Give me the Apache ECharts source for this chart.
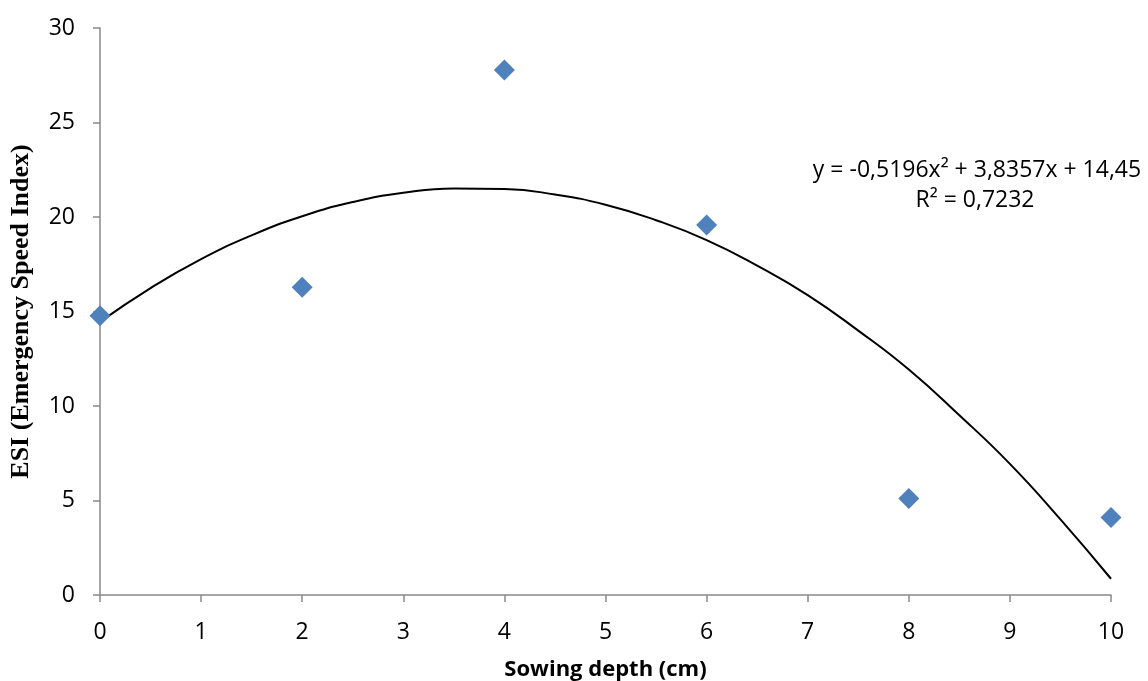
<!DOCTYPE html>
<html>
<head>
<meta charset="utf-8">
<script src="https://cdn.jsdelivr.net/npm/echarts@6/dist/echarts.min.js"></script>
<style>
  html, body { margin: 0; padding: 0; background: #fff; }
  #container { width: 1148px; height: 681px; }
</style>
</head>
<body>
<div id="container"></div>
<script>
// measured ESI at each sowing depth
var depths = [0, 2, 4, 6, 8, 10];
var esi = [14.78, 16.28, 27.78, 19.58, 5.1, 4.1];

// trendline
var trendX = [0, 0.5, 1, 1.5, 2, 2.5, 3, 3.5, 4, 4.5, 5, 5.5, 6, 6.5, 7, 7.5, 8, 8.5, 9, 9.5, 10];
var trendY = [14.45, 16.24, 17.77, 19.03, 20.04, 20.79, 21.28, 21.51, 21.48, 21.19, 20.65,
              19.83, 18.78, 17.43, 15.87, 13.99, 11.93, 9.51, 6.94, 4.0, 0.86];

var equation = 'y = -0,5196x² + 3,8357x + 14,45';
var rSquared = 'R² = 0,7232';

var dom = document.getElementById("container");
var myChart = echarts.init(dom);

var scatterData = depths.map(function (d, i) { return [d, esi[i]]; });
var trendData = trendX.map(function (d, i) { return [d, trendY[i]]; });

var axisGray = '#898989';
var labelFont = "'Open Sans', 'Liberation Sans', sans-serif";

var option = {
    animation: false,
    backgroundColor: '#ffffff',
    grid: {
        left: 100,
        right: 37,
        top: 28,
        bottom: 86,
        containLabel: false,
        outerBoundsMode: 'none'
    },
    xAxis: {
        type: 'value',
        min: 0,
        max: 10,
        interval: 1,
        name: 'Sowing depth (cm)',
        nameLocation: 'middle',
        nameGap: 64,
        nameTextStyle: {
            fontFamily: labelFont,
            fontWeight: 'bold',
            fontSize: 22,
            color: '#000'
        },
        axisLine: { lineStyle: { color: axisGray, width: 1.5 } },
        axisTick: { show: true, length: 7, lineStyle: { color: axisGray, width: 1.5 } },
        axisLabel: { fontFamily: labelFont, fontSize: 23, color: '#000', margin: 26 },
        splitLine: { show: false }
    },
    yAxis: {
        type: 'value',
        min: 0,
        max: 30,
        interval: 5,
        name: 'ESI (Emergency Speed Index)',
        nameLocation: 'middle',
        nameGap: 66,
        nameTextStyle: {
            fontFamily: "'Liberation Serif', 'DejaVu Serif', serif",
            fontWeight: 'bold',
            fontSize: 26,
            color: '#000'
        },
        axisLine: { show: true, lineStyle: { color: axisGray, width: 1.5 } },
        axisTick: { show: true, length: 7, lineStyle: { color: axisGray, width: 1.5 } },
        axisLabel: { fontFamily: labelFont, fontSize: 23, color: '#000', margin: 25 },
        splitLine: { show: false }
    },
    graphic: [{
        type: 'text',
        x: 977,
        y: 170,
        style: {
            text: equation,
            fontFamily: labelFont,
            fontSize: 23,
            fill: '#000',
            align: 'center',
            verticalAlign: 'middle'
        }
    }, {
        type: 'text',
        x: 975,
        y: 200,
        style: {
            text: rSquared,
            fontFamily: labelFont,
            fontSize: 23,
            fill: '#000',
            align: 'center',
            verticalAlign: 'middle'
        }
    }],
    series: [{
        name: 'trend',
        type: 'line',
        data: trendData,
        smooth: true,
        showSymbol: false,
        symbol: 'none',
        lineStyle: { color: '#000', width: 2 },
        z: 2
    }, {
        name: 'ESI',
        type: 'scatter',
        data: scatterData,
        symbol: 'diamond',
        symbolSize: [21, 21],
        itemStyle: { color: '#4F81BD', opacity: 1 },
        z: 3
    }]
};
myChart.setOption(option, true);
</script>
</body>
</html>
